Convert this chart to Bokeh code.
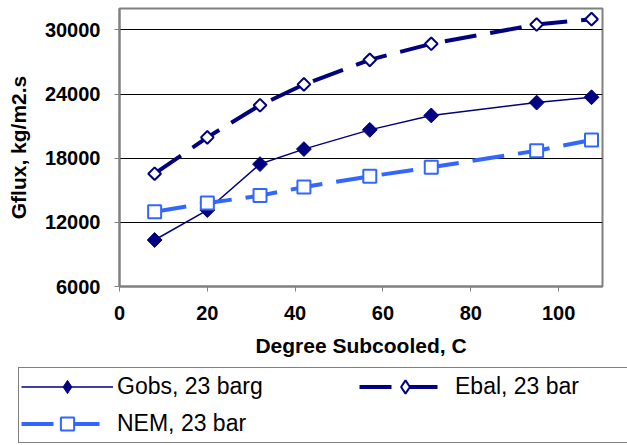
import numpy as np
from bokeh.plotting import figure
from bokeh.layouts import column
from bokeh.models import FixedTicker, Legend, LegendItem, Range1d
from bokeh.embed import file_html
from bokeh.resources import INLINE

# Data
subcooled = [8, 20, 32, 42, 57, 71, 95, 107.5]
gobs = [10350, 13150, 17450, 18850, 20650, 22000, 23200, 23700]
ebal = [16550, 19950, 22950, 24900, 27200, 28700, 30500, 31000]
nem = [13000, 13800, 14500, 15300, 16300, 17150, 18700, 19700]
x_ticks = [0, 20, 40, 60, 80, 100]
y_ticks = [6000, 12000, 18000, 24000, 30000]
series_labels = ["Gobs, 23 barg", "Ebal, 23 bar", "NEM, 23 bar"]

NAVY = "#000080"
BLUE = "#3366FF"
FONT = "Liberation Sans"

p = figure(width=627, height=360, output_backend="svg", toolbar_location=None,
           x_range=Range1d(0, 110), y_range=Range1d(6000, 32000),
           min_border_left=119, min_border_right=25, min_border_top=8,
           min_border_bottom=74)
p.background_fill_color = "white"
p.border_fill_color = "white"
p.outline_line_color = "#808080"
p.outline_line_width = 2

p.xgrid.visible = False
p.ygrid.grid_line_color = "#000000"
p.ygrid.grid_line_width = 1
p.ygrid.ticker = FixedTicker(ticks=y_ticks)

p.xaxis.ticker = FixedTicker(ticks=x_ticks)
p.yaxis.ticker = FixedTicker(ticks=y_ticks)
for ax in (p.xaxis[0], p.yaxis[0]):
    ax.axis_line_color = "#808080"
    ax.axis_line_width = 2
    ax.major_tick_line_color = "#808080"
    ax.major_tick_in = 0
    ax.major_tick_out = 5
    ax.minor_tick_line_color = None
    ax.major_label_text_font = FONT
    ax.major_label_text_font_style = "bold"
    ax.major_label_text_font_size = "20px"
    ax.major_label_text_color = "#000000"
    ax.axis_label_text_font = FONT
    ax.axis_label_text_font_style = "bold"
    ax.axis_label_text_font_size = "21px"
    ax.axis_label_text_color = "#000000"

p.xaxis.axis_label = "Degree Subcooled, C"
p.yaxis.axis_label = "Gflux, kg/m2.s"
p.xaxis.major_label_standoff = 14
p.yaxis.major_label_standoff = 14
p.xaxis.axis_label_standoff = 11
p.yaxis.axis_label_standoff = 12

line_styles = [
    dict(line_color=NAVY, line_width=1.5),
    dict(line_color=NAVY, line_width=4, line_dash="32 14"),
    dict(line_color=BLUE, line_width=4, line_dash="32 14"),
]
mark_styles = [
    dict(marker="square", angle=np.pi / 4, size=10.5,
         fill_color=NAVY, line_color=NAVY, line_width=1),
    dict(marker="square", angle=np.pi / 4, size=9,
         fill_color="white", line_color=NAVY, line_width=2),
    dict(marker="square", size=13,
         fill_color="white", line_color=BLUE, line_width=2),
]
legend_marks = [
    dict(marker="diamond", fill_color=NAVY, line_color=NAVY, line_width=1),
    dict(marker="diamond", fill_color="white", line_color=NAVY, line_width=2),
    dict(marker="square", fill_color="white", line_color=BLUE, line_width=2),
]

for ys, ls, ms in zip([gobs, ebal, nem], line_styles, mark_styles):
    p.line(subcooled, ys, **ls)
    p.scatter(subcooled, ys, **ms)

# Legend panel (a second figure holding only the legend keys)
lg = figure(width=627, height=85, output_backend="svg", toolbar_location=None,
            x_range=Range1d(0, 1), y_range=Range1d(0, 1),
            x_axis_type=None, y_axis_type=None, min_border=0)
lg.outline_line_color = None
lg.grid.visible = False
lg.background_fill_color = "white"
lg.border_fill_color = "white"

aligned = True
try:
    lg.frame_align = False
    p.frame_align = False
    aligned = False
except Exception:
    aligned = True

items = []
for lab, ls, ms in zip(series_labels, line_styles, legend_marks):
    r1 = lg.line([np.nan, np.nan], [np.nan, np.nan], **ls)
    r2 = lg.scatter([np.nan], [np.nan], **ms)
    items.append(LegendItem(label=lab, renderers=[r1, r2], index=0))

vx = 18 - 119 if aligned else 18
legend = Legend(items=items, location=(vx, 2), orientation="horizontal", ncols=2)
legend.margin = 0
legend.padding = 2
legend.spacing = 4
legend.glyph_width = 92
legend.glyph_height = 33
legend.label_height = 33
legend.label_width = 238
legend.label_standoff = 4
legend.label_text_font = FONT
legend.label_text_font_size = "23px"
legend.label_text_color = "#000000"
legend.border_line_color = "#000000"
legend.border_line_width = 1
legend.background_fill_color = "white"
legend.background_fill_alpha = 1
lg.add_layout(legend, "center")

layout = column(p, lg, spacing=0)
open("out.html", "w").write(file_html(layout, INLINE))
